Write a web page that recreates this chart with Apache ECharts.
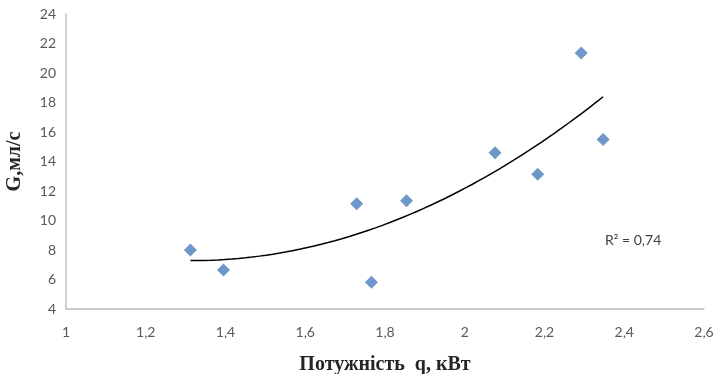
<!DOCTYPE html>
<html>
<head>
<meta charset="utf-8">
<script src="https://cdn.jsdelivr.net/npm/echarts@6/dist/echarts.min.js"></script>
<style>
  html, body { margin: 0; padding: 0; background: #fff; }
  #chart { width: 718px; height: 374px; }
</style>
</head>
<body>
<div id="chart"></div>
<script>
// Measured power q (kW) and flow G (ml/s)
const powerKW = [1.312, 1.395, 1.729, 1.766, 1.854, 2.076, 2.183, 2.292, 2.347];
const flowMlS = [8.0, 6.64, 11.14, 5.81, 11.34, 14.6, 13.13, 21.36, 15.5];
const r2Label = 'R² = 0,74';

// Second-order least-squares trend through the measurements
function quadFit(xs, ys) {
  let n = xs.length, s = [0, 0, 0, 0, 0], t = [0, 0, 0];
  for (let i = 0; i < n; i++) {
    const x = xs[i], y = ys[i];
    for (let k = 0; k < 5; k++) s[k] += Math.pow(x, k);
    for (let k = 0; k < 3; k++) t[k] += y * Math.pow(x, k);
  }
  const A = [[s[0], s[1], s[2], t[0]], [s[1], s[2], s[3], t[1]], [s[2], s[3], s[4], t[2]]];
  for (let i = 0; i < 3; i++) {
    for (let j = i + 1; j < 3; j++) {
      const f = A[j][i] / A[i][i];
      for (let k = i; k < 4; k++) A[j][k] -= f * A[i][k];
    }
  }
  const c = [0, 0, 0];
  for (let i = 2; i >= 0; i--) {
    let v = A[i][3];
    for (let k = i + 1; k < 3; k++) v -= A[i][k] * c[k];
    c[i] = v / A[i][i];
  }
  return c;
}
const coef = quadFit(powerKW, flowMlS);
const xMin = Math.min(...powerKW), xMax = Math.max(...powerKW);
const trend = [];
for (let i = 0; i <= 60; i++) {
  const x = xMin + (xMax - xMin) * i / 60;
  trend.push([x, coef[0] + coef[1] * x + coef[2] * x * x]);
}

const fmt = v => String(v).replace('.', ',');
const chart = echarts.init(document.getElementById('chart'));
chart.setOption({
  animation: false,
  grid: { left: 66, right: 14, top: 14, bottom: 65, containLabel: false, outerBoundsMode: 'none' },
  xAxis: {
    type: 'value', min: 1, max: 2.6, interval: 0.2,
    splitLine: { show: false },
    axisTick: { show: false },
    axisLine: { lineStyle: { color: '#bfbfbf', width: 1.5 } },
    axisLabel: { color: '#595959', fontFamily: 'Lato', fontSize: 14, margin: 16,
      formatter: v => fmt(Math.round(v * 10) / 10) },
    name: 'Потужність  q, кВт', nameLocation: 'middle', nameGap: 46,
    nameTextStyle: { fontFamily: 'Liberation Serif', fontWeight: 'bold', fontSize: 20, color: '#262626' }
  },
  yAxis: {
    type: 'value', min: 4, max: 24, interval: 2,
    splitLine: { show: false },
    axisTick: { show: false },
    axisLine: { show: true, lineStyle: { color: '#bfbfbf', width: 1.5 } },
    axisLabel: { color: '#595959', fontFamily: 'Lato', fontSize: 14, margin: 10 },
    name: 'G,мл/с', nameLocation: 'middle', nameGap: 41,
    nameTextStyle: { fontFamily: 'Liberation Serif', fontWeight: 'bold', fontSize: 20, color: '#262626' }
  },
  series: [
    {
      type: 'line', data: trend, showSymbol: false, smooth: false,
      lineStyle: { color: '#000', width: 1.5 }, z: 2
    },
    {
      type: 'scatter', data: powerKW.map((x, i) => [x, flowMlS[i]]),
      symbol: 'diamond', symbolSize: 13,
      itemStyle: { color: '#4a7ebb' }, z: 3
    }
  ],
  graphic: [{
    type: 'text', left: 605, top: 233,
    style: { text: r2Label, fontFamily: 'Lato', fontSize: 14, fill: '#404040' }
  }]
});
</script>
</body>
</html>
